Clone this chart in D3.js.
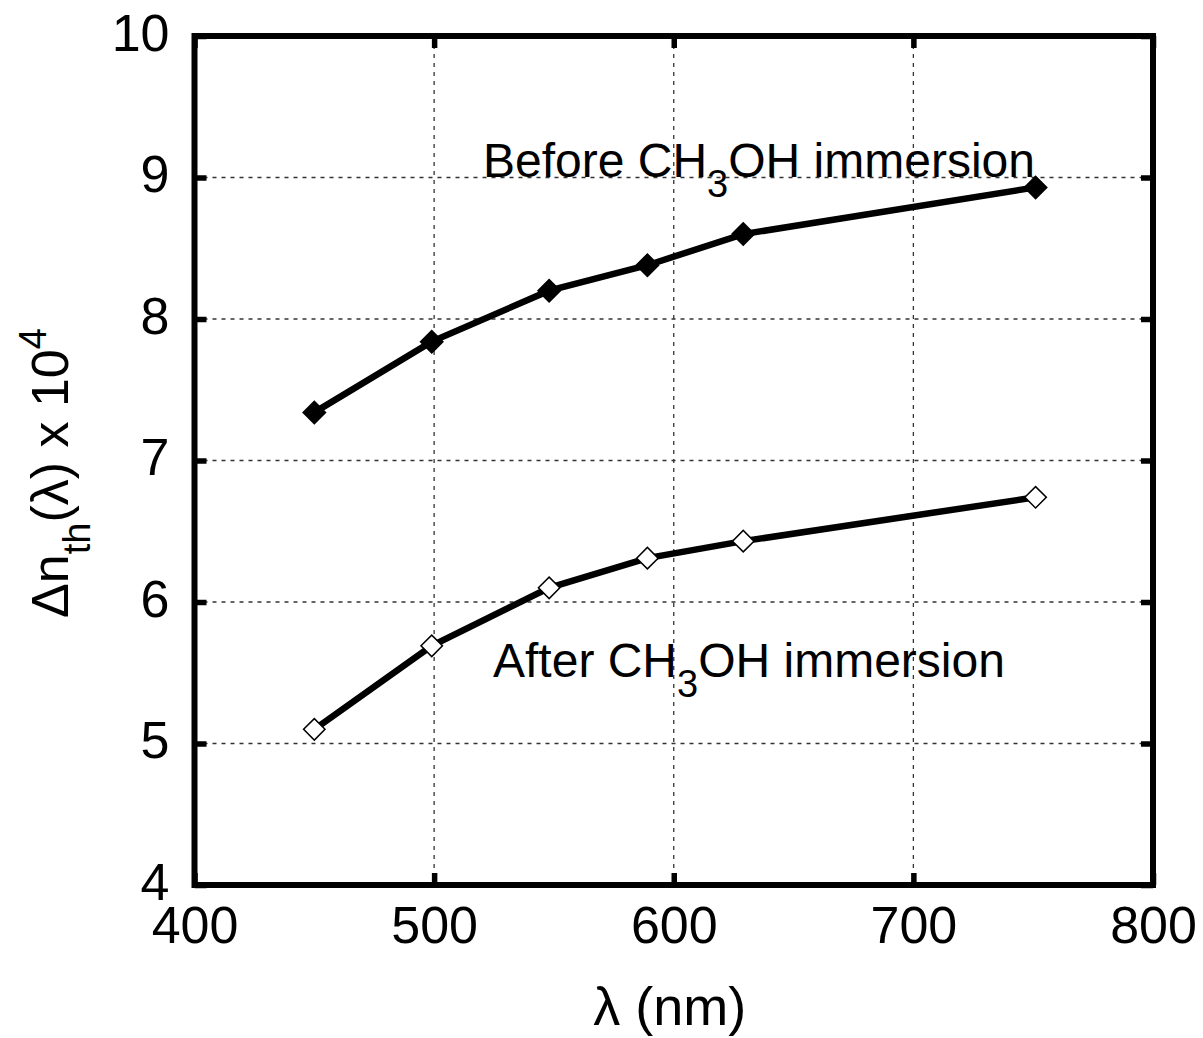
<!DOCTYPE html>
<html><head><meta charset="utf-8">
<script src="https://cdn.jsdelivr.net/npm/d3@7"></script>
<style>body{margin:0;background:#fff}svg{display:block}text{font-family:"Liberation Sans",Arial,sans-serif;fill:#000}</style>
</head><body><svg id="c" width="1203" height="1038"></svg>
<script>
const wavelengths = [450, 499, 548, 589, 629, 751];
const beforeValues = [7.34, 7.84, 8.20, 8.38, 8.60, 8.93];
const afterValues = [5.10, 5.69, 6.10, 6.31, 6.43, 6.74];
const xTicks = [400, 500, 600, 700, 800];
const yTicks = [4, 5, 6, 7, 8, 9, 10];

const svg = d3.select("#c");
const L = 194.5, R = 1153, T = 36, B = 885;
const x = d3.scaleLinear().domain([400, 800]).range([L, R]);
const y = d3.scaleLinear().domain([4, 10]).range([B, T]);

const g = svg.append("g");
g.selectAll(".gx").data(xTicks.slice(1, -1)).join("line")
  .attr("x1", d => x(d)).attr("x2", d => x(d)).attr("y1", T).attr("y2", B)
  .attr("stroke", "#333").attr("stroke-width", 1.3).attr("stroke-dasharray", "4,5");
g.selectAll(".gy").data(yTicks.slice(1, -1)).join("line")
  .attr("y1", d => y(d)).attr("y2", d => y(d)).attr("x1", L).attr("x2", R)
  .attr("stroke", "#333").attr("stroke-width", 1.3).attr("stroke-dasharray", "4,5");

const tl = 12, fs = 52;
svg.append("g").attr("transform", `translate(0,${B})`)
  .call(d3.axisBottom(x).tickValues(xTicks).tickSize(-tl).tickPadding(21).tickFormat(d3.format("d")))
  .call(a => { a.select(".domain").remove(); a.selectAll("line").attr("stroke-width", 5.5);
    a.selectAll("text").attr("font-size", fs).attr("dy", "0.71em").style("font-family", "Liberation Sans, Arial, sans-serif"); });
svg.append("g").attr("transform", `translate(0,${T})`)
  .call(d3.axisTop(x).tickValues(xTicks).tickSize(-tl).tickFormat(""))
  .call(a => { a.select(".domain").remove(); a.selectAll("line").attr("stroke-width", 5.5); });
svg.append("g").attr("transform", `translate(${L},0)`)
  .call(d3.axisLeft(y).tickValues(yTicks).tickSize(-tl).tickPadding(25).tickFormat(d3.format("d")))
  .call(a => { a.select(".domain").remove(); a.selectAll("line").attr("stroke-width", 5.5);
    a.selectAll("text").attr("font-size", fs).attr("dy", "0.27em").style("font-family", "Liberation Sans, Arial, sans-serif"); });
svg.append("g").attr("transform", `translate(${R},0)`)
  .call(d3.axisRight(y).tickValues(yTicks).tickSize(-tl).tickFormat(""))
  .call(a => { a.select(".domain").remove(); a.selectAll("line").attr("stroke-width", 5.5); });

svg.append("rect").attr("x", L).attr("y", T).attr("width", R - L).attr("height", B - T)
  .attr("fill", "none").attr("stroke", "#000").attr("stroke-width", 6);

const line = d3.line().x((d, i) => x(wavelengths[i])).y(d => y(d));

function series(vals, fill) {
  svg.append("path").attr("d", line(vals)).attr("fill", "none").attr("stroke", "#000").attr("stroke-width", 6.5);
  svg.selectAll(null).data(vals).join("path")
    .attr("d", d3.symbol().type(d3.symbolSquare).size(fill === "#000" ? 250 : 230)())
    .attr("transform", (d, i) => `translate(${x(wavelengths[i])},${y(d)}) rotate(45)`)
    .attr("fill", fill).attr("stroke", "#000").attr("stroke-width", 1.5);
}
series(beforeValues, "#000");
series(afterValues, "#fff");

function label(xp, yp, pre, sub, post) {
  const t = svg.append("text").attr("x", xp).attr("y", yp).attr("font-size", 48);
  t.append("tspan").text(pre);
  t.append("tspan").attr("dy", 20).attr("font-size", 38).text(sub);
  t.append("tspan").attr("dy", -20).text(post);
}
label(483, 177, "Before CH", "3", "OH immersion");
label(493, 677, "After CH", "3", "OH immersion");

svg.append("text").attr("x", x(600) - 4).attr("y", 1025).attr("text-anchor", "middle").attr("font-size", 54)
  .text("λ (nm)");
const yt = svg.append("text").attr("transform", "translate(68,473) rotate(-90)").attr("text-anchor", "middle").attr("font-size", 52);
yt.append("tspan").text("Δn");
yt.append("tspan").attr("dy", 22).attr("font-size", 38).text("th");
yt.append("tspan").attr("dy", -22).text("(λ) x 10");
yt.append("tspan").attr("dy", -22).attr("font-size", 38).text("4");
</script></body></html>
